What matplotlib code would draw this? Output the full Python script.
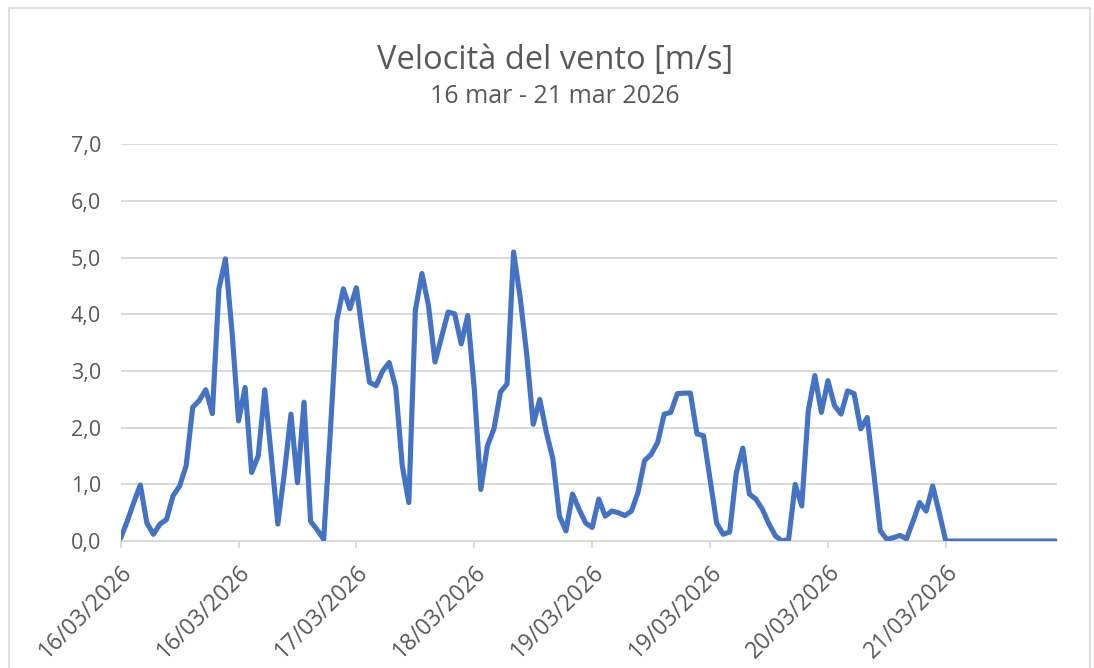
import matplotlib.pyplot as plt
import matplotlib.patches as patches
import numpy as np
import pandas as pd
from matplotlib.ticker import FuncFormatter

# velocita' oraria del vento [m/s], dal 16/03/2026 00:00
vento = [
    0.05, 0.35, 0.68, 0.99, 0.32, 0.12, 0.30, 0.38, 0.80, 0.97, 1.33, 2.36,
    2.48, 2.67, 2.25, 4.45, 4.98, 3.70, 2.12, 2.71, 1.21, 1.50, 2.67, 1.50,
    0.30, 1.20, 2.24, 1.03, 2.45, 0.35, 0.20, 0.03, 1.90, 3.89, 4.45, 4.10,
    4.47, 3.60, 2.80, 2.74, 3.00, 3.15, 2.71, 1.33, 0.68, 4.07, 4.72, 4.16,
    3.16, 3.60, 4.04, 4.01, 3.48, 3.98, 2.68, 0.91, 1.68, 1.98, 2.63, 2.77,
    5.10, 4.30, 3.30, 2.06, 2.50, 1.92, 1.45, 0.44, 0.18, 0.83, 0.56, 0.32,
    0.24, 0.74, 0.44, 0.53, 0.50, 0.45, 0.53, 0.86, 1.42, 1.53, 1.74, 2.24,
    2.27, 2.60, 2.61, 2.61, 1.89, 1.86, 1.09, 0.32, 0.12, 0.16, 1.20, 1.64,
    0.83, 0.74, 0.56, 0.30, 0.09, 0.00, 0.03, 1.00, 0.62, 2.30, 2.92, 2.27,
    2.83, 2.39, 2.24, 2.65, 2.60, 1.98, 2.18, 1.20, 0.18, 0.03, 0.06, 0.10,
    0.04, 0.35, 0.68, 0.53, 0.97, 0.50, 0.00, 0.00, 0.00, 0.00, 0.00, 0.00,
    0.00, 0.00, 0.00, 0.00, 0.00, 0.00, 0.00, 0.00, 0.00, 0.00, 0.00, 0.00,
]
date = pd.date_range('2026-03-16 00:00', periods=len(vento), freq='h')
passo = 18  # un'etichetta ogni 18 ore

titolo = 'Velocità del vento [m/s]'
sottotitolo = '16 mar - 21 mar 2026'

grigio = '#595959'
griglia = '#d9d9d9'
blu = '#4472C4'

plt.rcParams['font.family'] = ['Open Sans', 'DejaVu Sans']

fig = plt.figure(figsize=(10.94, 6.68), dpi=100)
ax = fig.add_axes([0.1103, 0.190, 0.856, 0.594])

x = np.arange(len(vento))
ax.plot(x, vento, color=blu, lw=3.7, solid_joinstyle='round', solid_capstyle='round', zorder=3)

ax.set_xlim(0, len(vento) - 1)
ax.set_ylim(0, 7)
ax.set_yticks(np.arange(0, 8, 1))
ax.yaxis.set_major_formatter(FuncFormatter(lambda v, p: ('%.1f' % v).replace('.', ',')))
ax.grid(axis='y', color=griglia, lw=1.4)
ax.set_axisbelow(True)

pos = x[::passo]
ax.set_xticks(pos)
ax.set_xticklabels([d.strftime('%d/%m/%Y') for d in date[::passo]],
                   rotation=45, ha='right', rotation_mode='anchor')

for s in ['top', 'right', 'left']:
    ax.spines[s].set_visible(False)
ax.spines['bottom'].set_color(griglia)
ax.spines['bottom'].set_linewidth(1.4)

ax.tick_params(axis='y', length=0, pad=14, labelsize=15.5, labelcolor=grigio)
ax.tick_params(axis='x', length=5, width=1.4, color=griglia, pad=9, labelsize=16.5, labelcolor=grigio)

fig.text(0.507, 0.910, titolo, ha='center', va='center', fontsize=23.5, color=grigio)
fig.text(0.507, 0.855, sottotitolo, ha='center', va='center', fontsize=18, color=grigio)

# bordo del grafico
fig.patches.append(patches.Rectangle((9 / 1094, -0.1), (1090 - 9) / 1094, 0.1 + 660 / 668,
                                     transform=fig.transFigure, fill=False,
                                     edgecolor=griglia, lw=1.2))

plt.savefig('out.png', dpi=100)
